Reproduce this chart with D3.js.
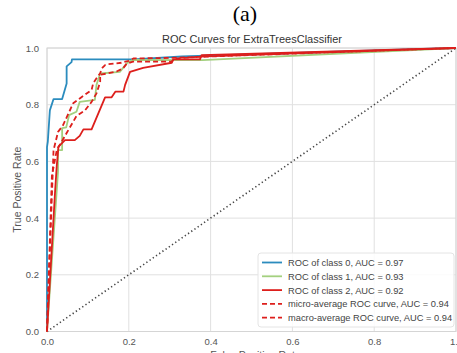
<!DOCTYPE html>
<html>
<head>
<meta charset="utf-8">
<script src="https://cdn.jsdelivr.net/npm/d3@7"></script>
<style>
  body { margin: 0; background: #fff; }
  svg { display: block; }
</style>
</head>
<body>
<svg id="chart" width="457" height="353"></svg>
<script>
// ROC points: [fpr, tpr]
const class0 = [[0,0],[0,0.65],[0.002,0.67],[0.007,0.78],[0.016,0.82],[0.037,0.82],[0.048,0.875],[0.048,0.935],[0.06,0.95],[0.061,0.96],[0.21,0.96],[0.33,0.97],[1,1]];
const class1 = [[0,0],[0.027,0.564],[0.027,0.64],[0.037,0.64],[0.037,0.717],[0.047,0.72],[0.054,0.763],[0.072,0.775],[0.08,0.81],[0.117,0.817],[0.121,0.87],[0.13,0.91],[0.178,0.916],[0.195,0.946],[0.21,0.958],[0.38,0.957],[1,1]];
const class2 = [[0,0],[0.02,0.5],[0.024,0.587],[0.028,0.652],[0.044,0.675],[0.068,0.675],[0.08,0.69],[0.089,0.713],[0.109,0.713],[0.142,0.826],[0.158,0.826],[0.167,0.846],[0.187,0.846],[0.191,0.87],[0.203,0.916],[0.235,0.93],[0.305,0.948],[0.309,0.96],[0.374,0.96],[0.378,0.975],[1,1]];
const microAvg = [[0,0],[0.015,0.6],[0.016,0.64],[0.027,0.704],[0.039,0.727],[0.064,0.805],[0.081,0.823],[0.109,0.852],[0.113,0.876],[0.121,0.893],[0.13,0.911],[0.134,0.928],[0.142,0.94],[0.15,0.943],[0.182,0.948],[0.2,0.955],[0.211,0.963],[0.3,0.965],[1,1]];
const macroAvg = [[0,0],[0.012,0.55],[0.024,0.64],[0.04,0.68],[0.048,0.7],[0.072,0.76],[0.093,0.78],[0.109,0.81],[0.121,0.84],[0.13,0.88],[0.13,0.906],[0.147,0.91],[0.17,0.917],[0.186,0.928],[0.195,0.945],[0.21,0.952],[0.305,0.952],[0.31,0.962],[0.378,0.97],[1,1]];

const legendLabels = [
  "ROC of class 0, AUC = 0.97",
  "ROC of class 1, AUC = 0.93",
  "ROC of class 2, AUC = 0.92",
  "micro-average ROC curve, AUC = 0.94",
  "macro-average ROC curve, AUC = 0.94"
];
const ticks = [0, 0.2, 0.4, 0.6, 0.8, 1.0];

const series = [
  { pts: class0, color: "#2b8cbe", dash: null },
  { pts: class1, color: "#a3d07f", dash: null },
  { pts: class2, color: "#dd1f1c", dash: null },
  { pts: microAvg, color: "#dd1f1c", dash: "5,3" },
  { pts: macroAvg, color: "#dd1f1c", dash: "5,3" }
];

const svg = d3.select("#chart");
const plotL = 47, plotR = 456, plotT = 48, plotB = 331.5;
const font = "Liberation Sans, Arial, sans-serif";

const x = d3.scaleLinear().domain([0, 1]).range([plotL, plotR]);
const y = d3.scaleLinear().domain([0, 1]).range([plotB, plotT]);

// "(a)" caption
svg.append("text")
  .attr("x", 245).attr("y", 21)
  .attr("text-anchor", "middle")
  .style("font-family", "Liberation Serif, Times New Roman, serif")
  .style("font-size", "22px")
  .attr("fill", "#000")
  .text("(a)");

svg.append("text")
  .attr("x", 252).attr("y", 43)
  .attr("text-anchor", "middle")
  .style("font-family", font)
  .style("font-size", "11px")
  .attr("fill", "#333")
  .text("ROC Curves for ExtraTreesClassifier");

// grid
const grid = svg.append("g");
grid.selectAll(".gx").data(ticks).enter().append("line")
  .attr("x1", d => x(d)).attr("x2", d => x(d))
  .attr("y1", plotT).attr("y2", plotB)
  .attr("stroke", "#e0e0e0").attr("stroke-width", 1);
grid.selectAll(".gy").data(ticks).enter().append("line")
  .attr("y1", d => y(d)).attr("y2", d => y(d))
  .attr("x1", plotL).attr("x2", plotR)
  .attr("stroke", "#e0e0e0").attr("stroke-width", 1);
svg.append("rect")
  .attr("x", plotL).attr("y", plotT)
  .attr("width", plotR - plotL).attr("height", plotB - plotT)
  .attr("fill", "none").attr("stroke", "#d5d5d5");

// axes (tick labels only)
const xAxis = svg.append("g")
  .attr("transform", `translate(0,${plotB})`)
  .call(d3.axisBottom(x).tickValues(ticks).tickFormat(d3.format(".1f")).tickSize(0).tickPadding(7));
const yAxis = svg.append("g")
  .attr("transform", `translate(${plotL},0)`)
  .call(d3.axisLeft(y).tickValues(ticks).tickFormat(d3.format(".1f")).tickSize(0).tickPadding(8));
[xAxis, yAxis].forEach(a => {
  a.select(".domain").remove();
  a.selectAll("text").style("font-family", font).style("font-size", "9.5px").attr("fill", "#555");
});

svg.append("text")
  .attr("x", (plotL + plotR) / 2 + 4).attr("y", 359)
  .attr("text-anchor", "middle")
  .style("font-family", font).style("font-size", "10.5px").attr("fill", "#555")
  .text("False Positive Rate");
svg.append("text")
  .attr("transform", `translate(21,${(plotT + plotB) / 2}) rotate(-90)`)
  .attr("text-anchor", "middle")
  .style("font-family", font).style("font-size", "10.5px").attr("fill", "#555")
  .text("True Positive Rate");

// diagonal
svg.append("line")
  .attr("x1", x(0)).attr("y1", y(0)).attr("x2", x(1)).attr("y2", y(1))
  .attr("stroke", "#444").attr("stroke-width", 1.6)
  .attr("stroke-dasharray", "1.3,2.6").attr("stroke-linecap", "butt");

const line = d3.line().x(d => x(d[0])).y(d => y(d[1]));
series.forEach(s => {
  svg.append("path")
    .attr("d", line(s.pts))
    .attr("fill", "none")
    .attr("stroke", s.color)
    .attr("stroke-width", 1.8)
    .attr("stroke-linejoin", "round")
    .attr("stroke-dasharray", s.dash);
});

// legend
const lg = svg.append("g").attr("transform", "translate(258,253)");
lg.append("rect")
  .attr("width", 196).attr("height", 74).attr("rx", 3)
  .attr("fill", "#fff").attr("fill-opacity", 0.85)
  .attr("stroke", "#e4e4e4");
legendLabels.forEach((lab, i) => {
  const yy = 9.5 + i * 13.8;
  lg.append("line")
    .attr("x1", 4).attr("x2", 24).attr("y1", yy).attr("y2", yy)
    .attr("stroke", series[i].color).attr("stroke-width", 1.8)
    .attr("stroke-dasharray", series[i].dash);
  lg.append("text")
    .attr("x", 30).attr("y", yy + 3.4)
    .style("font-family", font).style("font-size", "9.3px").attr("fill", "#444")
    .text(lab);
});
</script>
</body>
</html>
